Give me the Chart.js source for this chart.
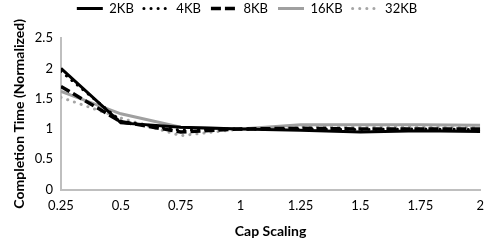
<!DOCTYPE html>
<html>
<head>
<meta charset="utf-8">
<script src="https://cdn.jsdelivr.net/npm/chart.js@4"></script>
<style>
  html, body { margin: 0; padding: 0; background: #fff; }
  #wrap { width: 487px; height: 244px; }
</style>
</head>
<body>
<div id="wrap"><canvas id="myChart"></canvas></div>
<script>
const capScaling = [0.25, 0.5, 0.75, 1, 1.25, 1.5, 1.75, 2]
const kb2  = [2.0, 1.10, 1.03, 1.0, 0.98, 0.95, 0.97, 0.96]
const kb4  = [1.95, 1.13, 0.98, 1.0, 1.0, 0.99, 1.0, 0.99]
const kb8  = [1.70, 1.12, 0.95, 1.0, 1.01, 1.0, 1.0, 1.0]
const kb16 = [1.62, 1.25, 1.03, 1.0, 1.07, 1.07, 1.07, 1.06]
const kb32 = [1.52, 1.18, 0.89, 1.0, 1.04, 1.04, 1.04, 1.03]

const pts = (ys) => capScaling.map((x, i) => ({x: x, y: ys[i]}))
const font = "Lato, Calibri, 'Liberation Sans', sans-serif"

// extra room under the legend
const legendGap = {
    id: "legendGap",
    beforeUpdate(chart) {
        const lg = chart.legend
        if (!lg || lg._gapPatched) return
        const fit = lg.fit
        lg.fit = function () { fit.call(this); this.height += 13 }
        lg._gapPatched = true
    }
}

new Chart("myChart", {
    type: "line",
    data: {
        datasets: [{
            label: "2KB",
            data: pts(kb2),
            borderColor: "#000",
            borderWidth: 3,
            pointRadius: 0,
            lineTension: 0
        }, {
            label: "4KB",
            data: pts(kb4),
            borderColor: "#000",
            borderWidth: 3,
            borderDash: [0.1, 7],
            borderCapStyle: "round",
            pointRadius: 0,
            lineTension: 0
        }, {
            label: "8KB",
            data: pts(kb8),
            borderColor: "#000",
            borderWidth: 3.5,
            borderDash: [10, 4],
            pointRadius: 0,
            lineTension: 0
        }, {
            label: "16KB",
            data: pts(kb16),
            borderColor: "#a0a0a0",
            borderWidth: 3,
            pointRadius: 0,
            lineTension: 0
        }, {
            label: "32KB",
            data: pts(kb32),
            borderColor: "#a6a6a6",
            borderWidth: 3,
            borderDash: [0.1, 7],
            borderCapStyle: "round",
            pointRadius: 0,
            lineTension: 0
        }]
    },
    plugins: [legendGap],
    options: {
        responsive: true,
        maintainAspectRatio: false,
        animation: false,
        layout: {padding: {left: 7, right: 0, top: -8, bottom: 0}},
        plugins: {
            legend: {
                display: true,
                position: "top",
                labels: {
                    usePointStyle: true,
                    pointStyleWidth: 26,
                    boxHeight: 13,
                    color: "#000",
                    padding: 10,
                    font: {family: font, size: 13},
                    generateLabels: (chart) =>
                        Chart.defaults.plugins.legend.labels.generateLabels(chart).map((l, i) => {
                            const ds = chart.data.datasets[i]
                            return Object.assign(l, {
                                pointStyle: "line",
                                lineDash: ds.borderDash || [],
                                lineCap: ds.borderCapStyle || "butt",
                                lineWidth: ds.borderWidth,
                                strokeStyle: ds.borderColor
                            })
                        })
                }
            },
            tooltip: {enabled: false}
        },
        scales: {
            x: {
                type: "linear",
                min: 0.25,
                max: 2,
                grid: {display: false, drawTicks: true, tickLength: 5, color: "#bfbfbf"},
                border: {color: "#bfbfbf", width: 2},
                ticks: {stepSize: 0.25, color: "#000", font: {family: font, size: 13}, maxRotation: 0,
                        callback: (v) => String(v)},
                title: {display: true, text: "Cap Scaling", color: "#000", font: {family: font, size: 14, weight: "bold"}, padding: {top: 7}}
            },
            y: {
                min: 0,
                max: 2.5,
                grid: {display: false, drawTicks: true, tickLength: 5, color: "#bfbfbf"},
                border: {color: "#bfbfbf", width: 2},
                ticks: {stepSize: 0.5, color: "#000", font: {family: font, size: 13}, callback: (v) => String(v)},
                title: {display: true, text: "Completion Time (Normalized)", color: "#000", font: {family: font, size: 14, weight: "bold"}, padding: {bottom: 4}}
            }
        }
    }
});
</script>
</body>
</html>
